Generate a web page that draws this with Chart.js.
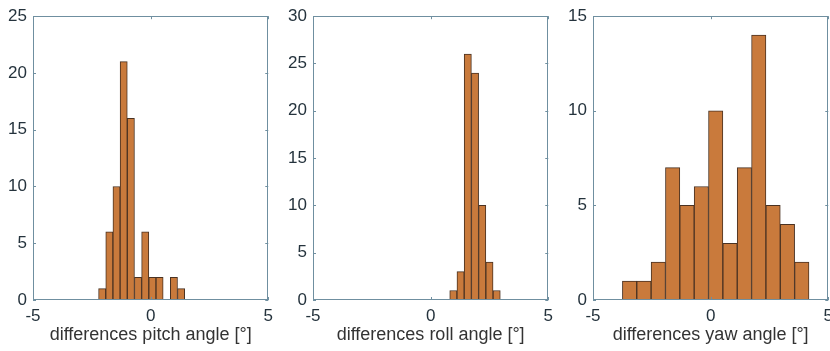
<!DOCTYPE html>
<html>
<head>
<meta charset="utf-8">
<script src="https://cdn.jsdelivr.net/npm/chart.js@4/dist/chart.umd.min.js"></script>
<style>
  html, body { margin: 0; padding: 0; background: #fff; width: 830px; height: 351px; overflow: hidden; }
  .panel { position: absolute; top: 0; width: 279px; height: 351px; }
</style>
</head>
<body>
<div class="panel" style="left:0px"><canvas id="c1"></canvas></div>
<div class="panel" style="left:280px"><canvas id="c2"></canvas></div>
<div class="panel" style="left:560px"><canvas id="c3"></canvas></div>
<script>
// ---- data ----
const xTickValues = [-5, 0, 5];

const pitchCenters = [-2.06, -1.755, -1.45, -1.145, -0.84, -0.535, -0.23, 0.075, 0.38, 0.685, 0.99, 1.295];
const pitchCounts  = [1, 6, 10, 21, 16, 2, 6, 2, 2, 0, 2, 1];
const pitchYMax = 25;

const rollCenters = [0.965, 1.272, 1.579, 1.886, 2.193, 2.5, 2.807];
const rollCounts  = [1, 3, 26, 24, 10, 4, 1];
const rollYMax = 30;

const yawCenters = [-3.445, -2.835, -2.225, -1.615, -1.005, -0.395, 0.215, 0.825, 1.435, 2.045, 2.655, 3.265, 3.875];
const yawCounts  = [1, 1, 2, 7, 5, 6, 10, 3, 7, 14, 5, 4, 2];
const yawYMax = 15;

const titles = ['differences pitch angle [°]', 'differences roll angle [°]', 'differences yaw angle [°]'];

// ---- styles ----
const FILL = '#c97a3c';
const EDGE = '#4a3222';
const AXIS = '#6f8fa0';
const TEXT = '#25333d';
const FONT = "'Liberation Sans', Arial, sans-serif";

const boxPlugin = {
  id: 'box',
  afterDatasetsDraw(chart) {
    const {ctx, chartArea: a, scales} = chart;
    ctx.save();
    ctx.strokeStyle = AXIS;
    ctx.lineWidth = 1;
    ctx.strokeRect(Math.round(a.left) + 0.5, Math.round(a.top) + 0.5,
                   Math.round(a.right - a.left) - 1, Math.round(a.bottom - a.top) - 1);
    const tl = 3;
    ctx.beginPath();
    scales.x.ticks.forEach(t => {
      const px = Math.round(scales.x.getPixelForValue(t.value)) + 0.5;
      ctx.moveTo(px, a.bottom); ctx.lineTo(px, a.bottom - tl);
      ctx.moveTo(px, a.top); ctx.lineTo(px, a.top + tl);
    });
    scales.y.ticks.forEach(t => {
      const py = Math.round(scales.y.getPixelForValue(t.value)) + 0.5;
      ctx.moveTo(a.left, py); ctx.lineTo(a.left + tl, py);
      ctx.moveTo(a.right, py); ctx.lineTo(a.right - tl, py);
    });
    ctx.stroke();
    ctx.restore();
  }
};

function makeChart(id, centers, counts, yMax, title) {
  const points = centers.map((c, i) => ({x: c, y: counts[i]}));
  return new Chart(document.getElementById(id), {
    type: 'bar',
    data: {
      datasets: [{
        data: points,
        backgroundColor: FILL,
        borderColor: EDGE,
        borderWidth: 1,
        barPercentage: 1,
        categoryPercentage: 1
      }]
    },
    options: {
      responsive: true,
      maintainAspectRatio: false,
      animation: false,
      events: [],
      layout: { padding: { top: 14, right: 10, bottom: 0, left: 0 } },
      plugins: { legend: { display: false }, tooltip: { enabled: false } },
      scales: {
        x: {
          type: 'linear',
          offset: false,
          min: -5, max: 5,
          afterBuildTicks(scale) { scale.ticks = xTickValues.map(v => ({value: v})); },
          grid: { display: false, drawTicks: false },
          border: { display: false },
          ticks: { color: TEXT, font: { family: FONT, size: 17 }, padding: 6, maxRotation: 0 },
          title: { display: true, text: title, color: '#333', font: { family: FONT, size: 18 }, padding: { top: 0, bottom: 5 } },
          afterFit(scale) { scale.height = 51; }
        },
        y: {
          min: 0, max: yMax,
          ticks: { stepSize: 5, color: TEXT, font: { family: FONT, size: 17 }, padding: 6 },
          grid: { display: false, drawTicks: false },
          border: { display: false },
          afterFit(scale) { scale.width = 33; }
        }
      }
    },
    plugins: [boxPlugin]
  });
}

makeChart('c1', pitchCenters, pitchCounts, pitchYMax, titles[0]);
makeChart('c2', rollCenters, rollCounts, rollYMax, titles[1]);
makeChart('c3', yawCenters, yawCounts, yawYMax, titles[2]);
</script>
</body>
</html>
